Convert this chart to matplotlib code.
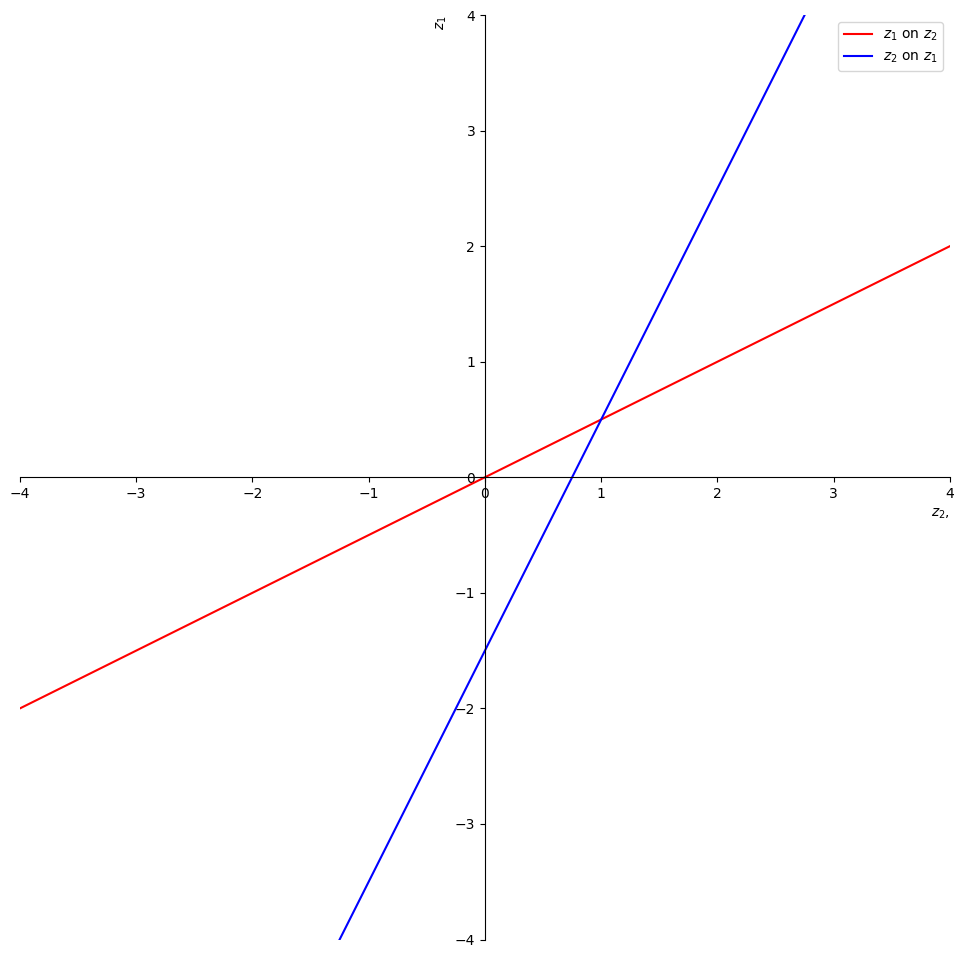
import numpy as np
import matplotlib.pyplot as plt

# regression lines
z2 = np.array([-4, 4])
z1_on_z2 = np.array([-2, 2])
z1_vals = np.array([-4, 4])
z2_on_z1 = np.array([-1.25, 2.75])

fig = plt.figure(figsize=(9.64, 9.58), dpi=100)
ax = fig.add_axes([0.0207, 0.0193, 0.9647, 0.9650])

ax.plot(z2, z1_on_z2, color='red', label='$z_1$ on $z_2$')
ax.plot(z2_on_z1, z1_vals, color='blue', label='$z_2$ on $z_1$')

ax.set_xlim(-4, 4)
ax.set_ylim(-4, 4)
ax.spines['left'].set_position('zero')
ax.spines['bottom'].set_position('zero')
ax.spines['top'].set_visible(False)
ax.spines['right'].set_visible(False)

ax.set_xlabel('$z_2$,', loc='right')
ax.set_ylabel('$z_1$', loc='top')
ax.legend(loc='upper right')

fig.savefig('out.png')
